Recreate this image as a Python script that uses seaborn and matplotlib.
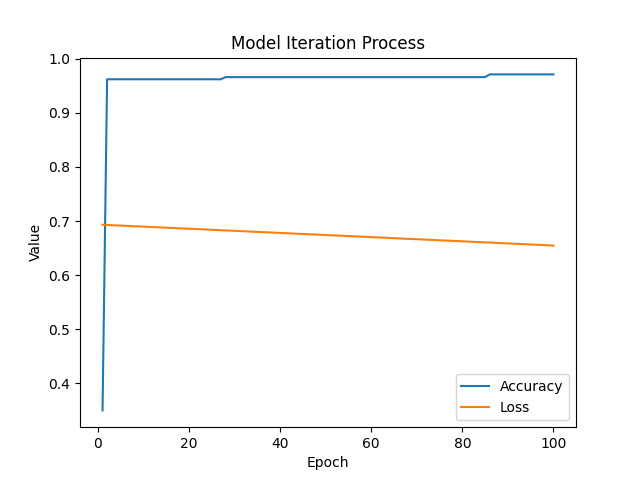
import matplotlib
matplotlib.use("Agg")
import matplotlib.pyplot as plt
import seaborn as sns
import pandas as pd

epochs = list(range(1, 101))
accuracy = [0.35] + [0.962] * 26 + [0.966] * 58 + [0.971] * 15
loss = [0.6931, 0.6927, 0.6923, 0.6919, 0.6916, 0.6912, 0.6908, 0.6904, 0.6900, 0.6896,
        0.6892, 0.6888, 0.6885, 0.6881, 0.6877, 0.6873, 0.6869, 0.6865, 0.6861, 0.6857,
        0.6854, 0.6850, 0.6846, 0.6842, 0.6838, 0.6834, 0.6830, 0.6826, 0.6823, 0.6819,
        0.6815, 0.6811, 0.6807, 0.6803, 0.6799, 0.6795, 0.6792, 0.6788, 0.6784, 0.6780,
        0.6776, 0.6772, 0.6768, 0.6764, 0.6761, 0.6757, 0.6753, 0.6749, 0.6745, 0.6741,
        0.6737, 0.6733, 0.6730, 0.6726, 0.6722, 0.6718, 0.6714, 0.6710, 0.6706, 0.6702,
        0.6699, 0.6695, 0.6691, 0.6687, 0.6683, 0.6679, 0.6675, 0.6671, 0.6668, 0.6664,
        0.6660, 0.6656, 0.6652, 0.6648, 0.6644, 0.6640, 0.6637, 0.6633, 0.6629, 0.6625,
        0.6621, 0.6617, 0.6613, 0.6609, 0.6606, 0.6602, 0.6598, 0.6594, 0.6590, 0.6586,
        0.6582, 0.6578, 0.6575, 0.6571, 0.6567, 0.6563, 0.6559, 0.6555, 0.6551, 0.6547]

df = pd.DataFrame({"Epoch": epochs * 2,
                   "Value": accuracy + loss,
                   "Metric": ["Accuracy"] * 100 + ["Loss"] * 100})

fig, ax = plt.subplots(figsize=(6.4, 4.8), dpi=100)
sns.lineplot(data=df, x="Epoch", y="Value", hue="Metric", ax=ax,
             palette=["#1f77b4", "#ff7f0e"])
ax.set_title("Model Iteration Process")
ax.legend(loc="lower right")
fig.savefig("out.png")
